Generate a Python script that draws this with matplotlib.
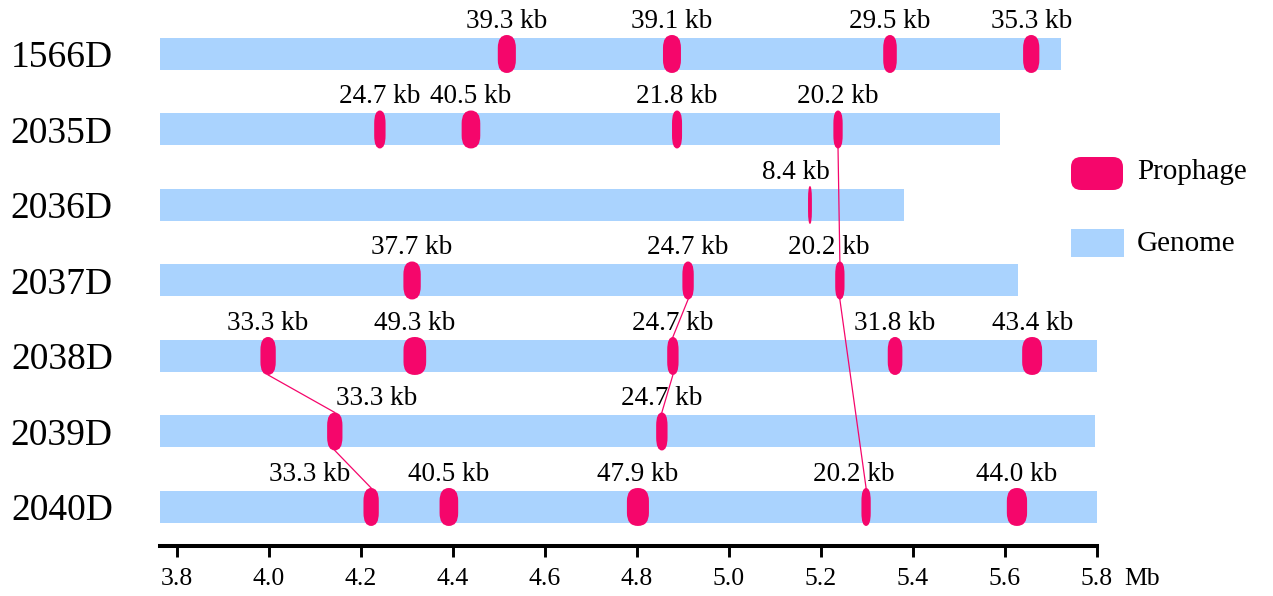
import numpy as np
import matplotlib
matplotlib.use('Agg')
import matplotlib.pyplot as plt
from matplotlib.patches import FancyBboxPatch

# Times-like font
plt.rcParams['font.family'] = ['Liberation Serif', 'DejaVu Serif']

# Data (positions in Mb, sizes in kb)
strains = ['1566D', '2035D', '2036D', '2037D', '2038D', '2039D', '2040D']
genome_start = 3.763
genome_end = [5.722, 5.589, 5.380, 5.628, 5.800, 5.796, 5.800]
prophage_pos = [
    [4.517, 4.876, 5.350, 5.657],
    [4.241, 4.439, 4.887, 5.237],
    [5.176],
    [4.311, 4.911, 5.241],
    [3.998, 4.317, 4.878, 5.361, 5.659],
    [4.143, 4.854],
    [4.222, 4.391, 4.802, 5.298, 5.626],
]
prophage_kb = [
    [39.3, 39.1, 29.5, 35.3],
    [24.7, 40.5, 21.8, 20.2],
    [8.4],
    [37.7, 24.7, 20.2],
    [33.3, 49.3, 24.7, 31.8, 43.4],
    [33.3, 24.7],
    [33.3, 40.5, 47.9, 20.2, 44.0],
]
# shared prophages between strains: (row, prophage index)
links = [
    [(1, 3), (3, 2), (6, 3)],
    [(3, 1), (4, 2), (5, 1)],
    [(4, 0), (5, 0), (6, 0)],
]
x_ticks = [3.8, 4.0, 4.2, 4.4, 4.6, 4.8, 5.0, 5.2, 5.4, 5.6, 5.8]

# label nudges (points) for crowded labels
label_dx = {(5, 0): 30, (6, 0): -44, (6, 3): -9, (3, 2): -8, (2, 0): -10}

PINK = '#F5066B'
BLUE = '#AAD3FE'
W, H = 1273, 596

fig = plt.figure(figsize=(W / 100, H / 100), dpi=100)
ax = fig.add_axes([160 / W, 50 / H, 937 / W, 546 / H])
ax.set_xlim(genome_start, 5.8)
ax.set_ylim(6.517, -0.715)

bar_h = 0.424
pro_h = 0.503
px_y = 546 / (6.517 + 0.715)  # pixels per y unit
round_y = 13 / px_y

# genomes
for i, name in enumerate(strains):
    ax.barh(i, genome_end[i] - genome_start, left=genome_start, height=bar_h,
            color=BLUE, zorder=1)

# link lines
for chain in links:
    for (r1, k1), (r2, k2) in zip(chain[:-1], chain[1:]):
        ax.plot([prophage_pos[r1][k1], prophage_pos[r2][k2]],
                [r1 + pro_h / 2, r2 - pro_h / 2], color=PINK, lw=0.9, zorder=2)

# prophages
for i in range(len(strains)):
    for k, (pos, kb) in enumerate(zip(prophage_pos[i], prophage_kb[i])):
        w = kb / 1000.0
        r = w / 2
        p = FancyBboxPatch((pos - w / 2, i - pro_h / 2), w, pro_h,
                           boxstyle=f'round,pad=0,rounding_size={r}',
                           mutation_aspect=round_y / r,
                           facecolor=PINK, edgecolor='none', zorder=3)
        ax.add_patch(p)
        ax.annotate(f'{kb:.1f} kb', (pos, i), xytext=(label_dx.get((i, k), 0), 19),
                    textcoords='offset points', ha='center', va='baseline',
                    fontsize=19.5, zorder=4)

# axes styling
for s in ['top', 'right', 'left']:
    ax.spines[s].set_visible(False)
ax.spines['bottom'].set_linewidth(2.9)
ax.set_xticks(x_ticks)
ax.set_xticklabels([f'{t:.1f}' for t in x_ticks])
ax.tick_params(axis='x', direction='out', length=8, width=2.1, pad=8, labelsize=18.5)
ax.set_yticks(range(len(strains)))
ax.set_yticklabels(strains)
ax.tick_params(axis='y', length=0, pad=34, labelsize=27)
ax.annotate('Mb', (1, 0), xycoords='axes fraction', xytext=(20, -24),
            textcoords='offset points', ha='left', va='center', fontsize=18.5)

# legend
leg = FancyBboxPatch((1071 / W, (H - 190) / H), 52 / W, 33 / H,
                     boxstyle=f'round,pad=0,rounding_size={10 / W}',
                     mutation_aspect=W / H, transform=fig.transFigure,
                     facecolor=PINK, edgecolor='none')
fig.patches.append(leg)
fig.patches.append(plt.Rectangle((1071 / W, (H - 257) / H), 53 / W, 28 / H,
                                 transform=fig.transFigure, facecolor=BLUE,
                                 edgecolor='none'))
fig.text(1137 / W, (H - 172) / H, 'Prophage', fontsize=21, va='center', ha='left')
fig.text(1137 / W, (H - 244) / H, 'Genome', fontsize=21, va='center', ha='left')

fig.savefig('out.png', dpi=100)
